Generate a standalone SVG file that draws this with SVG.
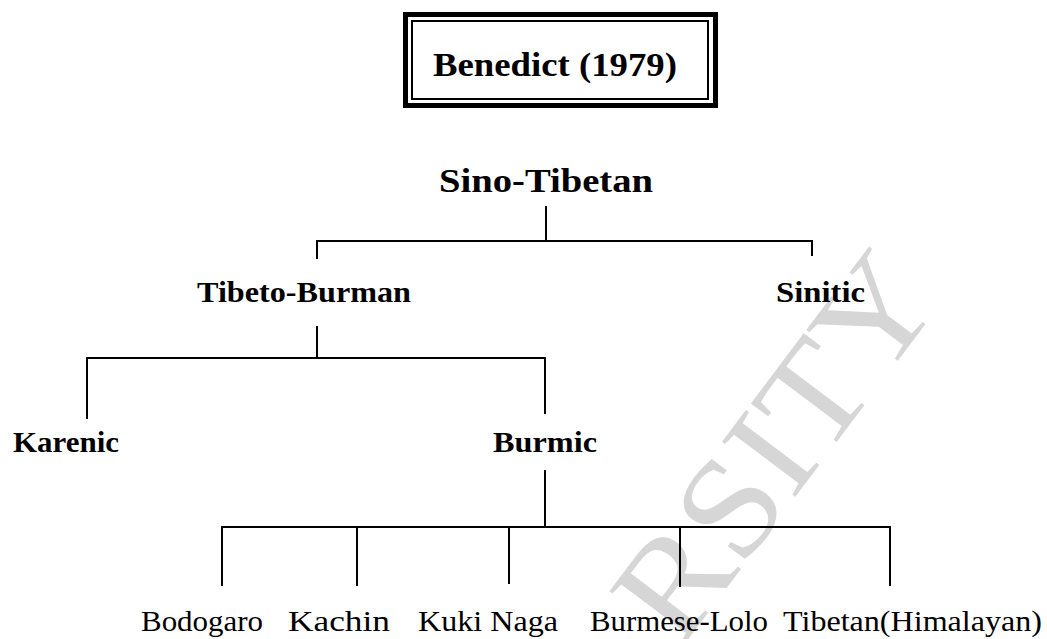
<svg xmlns="http://www.w3.org/2000/svg" width="1047" height="639" viewBox="0 0 1047 639">
<style>
.b{font-family:"Liberation Serif","Times New Roman",serif;font-weight:bold;fill:#000}
.r{font-family:"Liberation Serif","Times New Roman",serif;font-weight:normal;fill:#000}
.c{fill:none;stroke:#000;stroke-width:2;stroke-linecap:square}
.wm{font-family:"Liberation Serif","Times New Roman",serif;fill:#d6d6d6}
</style>
<rect width="1047" height="639" fill="#fff"/>
<text class="wm" font-size="140" transform="translate(680,650) rotate(-53)" textLength="440" lengthAdjust="spacingAndGlyphs">RSITY</text>
<g id="title">
<rect x="405.5" y="14.5" width="310" height="91" fill="none" stroke="#000" stroke-width="5"/>
<rect x="412" y="21" width="296" height="78" fill="none" stroke="#000" stroke-width="2"/>
<text class="b" x="433" y="76" font-size="34" textLength="244" lengthAdjust="spacingAndGlyphs">Benedict (1979)</text>
</g>
<g id="connectors">
<path class="c" d="M546,207 V241"/>
<path class="c" d="M317,258 V241 H812 V255"/>
<path class="c" d="M317,327 V358"/>
<path class="c" d="M87,418 V358 H545 V413"/>
<path class="c" d="M545,471 V527"/>
<path class="c" d="M222,585 V527 H890 V585"/>
<path class="c" d="M357,527 V585"/>
<path class="c" d="M509,527 V583"/>
<path class="c" d="M680,527 V586"/>
</g>
<g id="sino-tibetan"><text class="b" x="439" y="192" font-size="34" textLength="214" lengthAdjust="spacingAndGlyphs">Sino-Tibetan</text></g>
<g id="tibeto-burman"><text class="b" x="197" y="302" font-size="30" textLength="214" lengthAdjust="spacingAndGlyphs">Tibeto-Burman</text></g>
<g id="sinitic"><text class="b" x="776" y="302" font-size="30" textLength="89" lengthAdjust="spacingAndGlyphs">Sinitic</text></g>
<g id="karenic"><text class="b" x="13" y="452" font-size="30" textLength="106" lengthAdjust="spacingAndGlyphs">Karenic</text></g>
<g id="burmic"><text class="b" x="493" y="452" font-size="30" textLength="104" lengthAdjust="spacingAndGlyphs">Burmic</text></g>
<g id="bodogaro"><text class="r" x="141" y="631" font-size="30" textLength="122" lengthAdjust="spacingAndGlyphs">Bodogaro</text></g>
<g id="kachin"><text class="r" x="288" y="631" font-size="30" textLength="102" lengthAdjust="spacingAndGlyphs">Kachin</text></g>
<g id="kuki-naga"><text class="r" x="418" y="631" font-size="30" textLength="140" lengthAdjust="spacingAndGlyphs">Kuki Naga</text></g>
<g id="burmese-lolo"><text class="r" x="590" y="631" font-size="30" textLength="178" lengthAdjust="spacingAndGlyphs">Burmese-Lolo</text></g>
<g id="tibetan-himalayan"><text class="r" x="783" y="631" font-size="30" textLength="259" lengthAdjust="spacingAndGlyphs">Tibetan(Himalayan)</text></g>
</svg>
